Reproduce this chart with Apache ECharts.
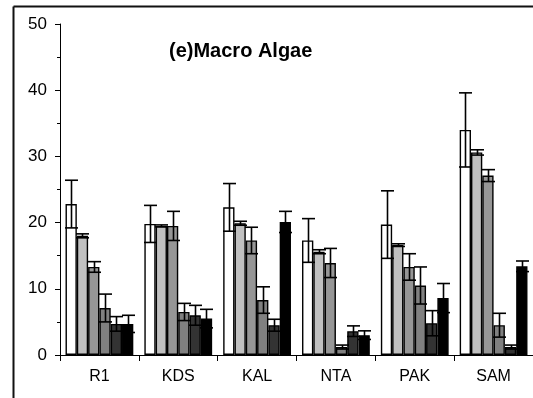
<!DOCTYPE html>
<html>
<head>
<meta charset="utf-8">
<script src="https://cdn.jsdelivr.net/npm/echarts@6/dist/echarts.min.js"></script>
<style>
  html, body { margin: 0; padding: 0; background: #fff; }
  #chart { width: 533px; height: 398px; }
</style>
</head>
<body>
<div id="chart"></div>
<script>
// Sampling sites
const sites = ['R1', 'KDS', 'KAL', 'NTA', 'PAK', 'SAM'];

// Mean cover per site for six groups, with symmetric error
const group1 = [22.8, 19.8, 22.3, 17.3, 19.7, 34.0];
const group1Err = [3.6, 2.8, 3.6, 3.3, 5.1, 5.6];
const group2 = [18.0, 19.5, 19.9, 15.6, 16.6, 30.6];
const group2Err = [0.3, 0.15, 0.3, 0.3, 0.2, 0.4];
const group3 = [13.3, 19.5, 17.3, 13.9, 13.3, 27.1];
const group3Err = [0.8, 2.2, 2.0, 2.2, 2.0, 0.9];
const group4 = [7.1, 6.5, 8.3, 1.2, 10.5, 4.5];
const group4Err = [2.1, 1.3, 2.0, 0.3, 2.8, 1.8];
const group5 = [4.7, 6.0, 4.5, 3.6, 4.8, 1.2];
const group5Err = [1.1, 1.5, 0.9, 0.8, 1.9, 0.3];
const group6 = [4.7, 5.5, 20.1, 3.0, 8.6, 13.4];
const group6Err = [1.3, 1.4, 1.6, 0.65, 2.2, 0.8];

const yTicks = [0, 10, 20, 30, 40, 50];

const groups = [
  { values: group1, errs: group1Err, color: '#ffffff' },
  { values: group2, errs: group2Err, color: '#c0c0c0' },
  { values: group3, errs: group3Err, color: '#969696' },
  { values: group4, errs: group4Err, color: '#808080' },
  { values: group5, errs: group5Err, color: '#333333' },
  { values: group6, errs: group6Err, color: '#000000' }
];

const CAT_GAP = 0.14;
const N = groups.length;
const FONT = 'Liberation Sans, Arial, sans-serif';

const series = [];
groups.forEach((g) => {
  series.push({
    type: 'bar',
    data: g.values,
    barGap: '0%',
    barCategoryGap: (CAT_GAP * 100) + '%',
    itemStyle: { color: g.color, borderColor: '#000', borderWidth: 1.4 },
    silent: true,
    z: 2
  });
});

// Error bars drawn over each bar, placed at the bar's slot in the category band
groups.forEach((g, k) => {
  series.push({
    type: 'custom',
    z: 5,
    silent: true,
    data: g.values.map((v, i) => [i, v, g.errs[i]]),
    renderItem: function (params, api) {
      const i = api.value(0);
      const v = api.value(1);
      const e = api.value(2);
      const band = api.size([1, 0])[0];
      const barW = band * (1 - CAT_GAP) / N;
      const c = api.coord([i, v]);
      const x = Math.round(c[0] - band * (1 - CAT_GAP) / 2 + barW * (k + 0.5)) + 0.5;
      const yTop = api.coord([i, v + e])[1];
      const yBot = api.coord([i, Math.max(v - e, 0)])[1];
      const cap = 6.5;
      const st = { stroke: '#000', lineWidth: 1.6 };
      return {
        type: 'group',
        children: [
          { type: 'line', shape: { x1: x, y1: yTop, x2: x, y2: yBot }, style: st },
          { type: 'line', shape: { x1: x - cap, y1: yTop, x2: x + cap, y2: yTop }, style: st },
          { type: 'line', shape: { x1: x - cap, y1: yBot, x2: x + cap, y2: yBot }, style: st }
        ]
      };
    }
  });
});

const chart = echarts.init(document.getElementById('chart'), null, { renderer: 'canvas' });
chart.setOption({
  animation: false,
  backgroundColor: '#ffffff',
  title: {
    text: '(e)Macro Algae',
    left: 164,
    top: 36,
    textStyle: { fontFamily: FONT, fontWeight: 'bold', fontSize: 20, color: '#000' }
  },
  graphic: [
    // chart-area frame: left and top edges
    {
      type: 'line',
      left: 11,
      top: 4,
      shape: { x1: 0, y1: 0, x2: 0, y2: 400 },
      style: { stroke: '#111', lineWidth: 2 },
      silent: true,
      z: 100
    },
    {
      type: 'line',
      left: 11,
      top: 4,
      shape: { x1: 0, y1: 0, x2: 530, y2: 0 },
      style: { stroke: '#111', lineWidth: 2 },
      silent: true,
      z: 100
    }
  ],
  grid: { left: 60, top: 24, width: 480, height: 331, containLabel: false },
  xAxis: {
    type: 'category',
    data: sites,
    axisLine: { lineStyle: { color: '#000', width: 1 } },
    axisTick: { show: true, length: 6, lineStyle: { color: '#000' } },
    axisLabel: { color: '#000', fontSize: 16, fontFamily: FONT, margin: 14 },
    splitLine: { show: false }
  },
  yAxis: {
    type: 'value',
    min: 0,
    max: 50,
    interval: 10,
    axisLine: { show: true, lineStyle: { color: '#000', width: 1 } },
    axisTick: { show: true, length: 5, lineStyle: { color: '#000' } },
    minorTick: { show: true, splitNumber: 2, length: 3, lineStyle: { color: '#000' } },
    axisLabel: {
      color: '#000', fontSize: 17, fontFamily: FONT, margin: 13,
      formatter: v => (yTicks.indexOf(v) >= 0 ? String(v) : '')
    },
    splitLine: { show: false }
  },
  series: series
});
</script>
</body>
</html>
